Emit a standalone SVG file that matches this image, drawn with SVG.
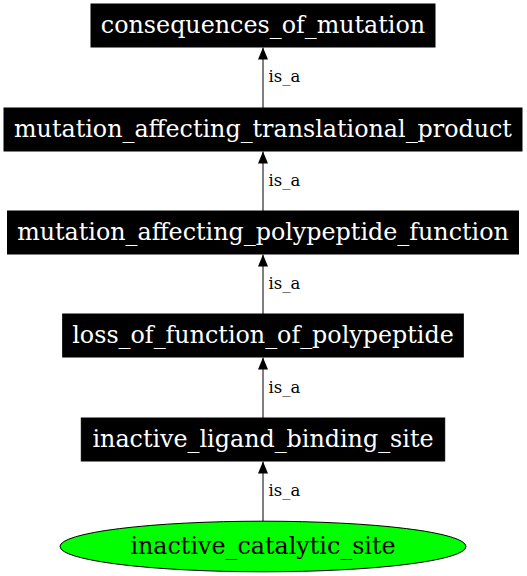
<svg xmlns="http://www.w3.org/2000/svg" width="527" height="576" viewBox="0 0 527 576">
<defs>
<style>
.box{fill:#000;stroke:#000;stroke-width:1}
.nt{font-family:"DejaVu Serif",serif;font-size:23.8px;text-anchor:middle;fill:#fff}
.nt2{font-family:"DejaVu Serif",serif;font-size:23.8px;text-anchor:middle;fill:#000}
.el{font-family:"DejaVu Serif",serif;font-size:16.5px;fill:#000}
.edge{stroke:#000;stroke-width:1;fill:none}
</style>
<marker id="arr" viewBox="0 0 12 10" refX="12" refY="5" markerWidth="12" markerHeight="10" markerUnits="userSpaceOnUse" orient="auto">
<path d="M0,0 L12,5 L0,10 Z" fill="#000"/>
</marker>
</defs>
<rect width="527" height="576" fill="#fff"/>
<g id="connectors">
<line class="edge" x1="263" y1="108" x2="263" y2="47.5" marker-end="url(#arr)"/>
<text class="el" x="268.5" y="82.3">is_a</text>
<line class="edge" x1="263" y1="211" x2="263" y2="151.5" marker-end="url(#arr)"/>
<text class="el" x="268.5" y="186">is_a</text>
<line class="edge" x1="263" y1="314" x2="263" y2="254.5" marker-end="url(#arr)"/>
<text class="el" x="268.5" y="289">is_a</text>
<line class="edge" x1="263" y1="418" x2="263" y2="357.5" marker-end="url(#arr)"/>
<text class="el" x="268.5" y="392.5">is_a</text>
<line class="edge" x1="263" y1="521" x2="263" y2="461.5" marker-end="url(#arr)"/>
<text class="el" x="268.5" y="495.5">is_a</text>
</g>
<g id="consequences_of_mutation">
<rect class="box" x="91" y="4" width="344" height="43"/>
<text class="nt" x="263" y="32.5">consequences_of_mutation</text>
</g>
<g id="mutation_affecting_translational_product">
<rect class="box" x="4" y="108" width="518" height="43"/>
<text class="nt" x="263" y="136.5">mutation_affecting_translational_product</text>
</g>
<g id="mutation_affecting_polypeptide_function">
<rect class="box" x="7.5" y="211" width="511" height="43"/>
<text class="nt" x="263" y="239.5">mutation_affecting_polypeptide_function</text>
</g>
<g id="loss_of_function_of_polypeptide">
<rect class="box" x="62.7" y="314" width="400.6" height="43"/>
<text class="nt" x="263" y="342.5">loss_of_function_of_polypeptide</text>
</g>
<g id="inactive_ligand_binding_site">
<rect class="box" x="81.3" y="418" width="363.4" height="43"/>
<text class="nt" x="263" y="446.5">inactive_ligand_binding_site</text>
</g>
<g id="inactive_catalytic_site">
<ellipse cx="263" cy="546.5" rx="203" ry="25.3" fill="#00ff00" stroke="#000" stroke-width="1"/>
<text class="nt2" x="263" y="554">inactive_catalytic_site</text>
</g>
</svg>
